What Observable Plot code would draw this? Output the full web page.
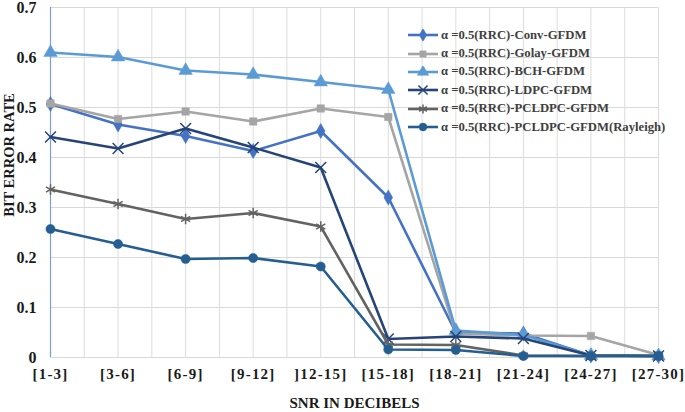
<!DOCTYPE html>
<html><head><meta charset="utf-8">
<script src="https://cdn.jsdelivr.net/npm/d3@7"></script>
<script src="https://cdn.jsdelivr.net/npm/@observablehq/plot@0.6"></script>
<style>
body{margin:0;background:#fff;}
#wrap{position:relative;width:685px;height:412px;font-family:"Liberation Serif","Times New Roman",serif;}
#legend{position:absolute;left:407px;top:26px;font-weight:bold;font-size:12.7px;color:#404040;}
.item{display:flex;align-items:center;height:18.4px;white-space:nowrap;}
.item svg{margin-right:2px;}
#ytitle{position:absolute;left:9px;top:155px;transform:translate(-50%,-50%) rotate(-90deg);font-weight:bold;font-size:14.5px;color:#1a1a1a;white-space:nowrap;}
</style></head><body><div id="wrap"><div id="legend"></div><div id="ytitle">BIT ERROR RATE</div></div>
<script>
const categories = ["[1-3]","[3-6]","[6-9]","[9-12]","]12-15]","[15-18]","[18-21]","[21-24]","[24-27]","[27-30]"];
const seriesNames = [
  "α =0.5(RRC)-Conv-GFDM",
  "α =0.5(RRC)-Golay-GFDM",
  "α =0.5(RRC)-BCH-GFDM",
  "α =0.5(RRC)-LDPC-GFDM",
  "α =0.5(RRC)-PCLDPC-GFDM",
  "α =0.5(RRC)-PCLDPC-GFDM(Rayleigh)"
];
const convValues     = [0.507, 0.466, 0.443, 0.413, 0.453, 0.320, 0.050, 0.048, 0.004, 0.003];
const golayValues    = [0.508, 0.477, 0.492, 0.472, 0.498, 0.481, 0.048, 0.044, 0.043, 0.005];
const bchValues      = [0.610, 0.601, 0.574, 0.566, 0.551, 0.536, 0.054, 0.045, 0.004, 0.003];
const ldpcValues     = [0.441, 0.418, 0.458, 0.420, 0.380, 0.037, 0.042, 0.038, 0.004, 0.003];
const pcldpcValues   = [0.336, 0.307, 0.277, 0.289, 0.262, 0.026, 0.025, 0.004, 0.003, 0.003];
const rayleighValues = [0.257, 0.227, 0.197, 0.199, 0.182, 0.016, 0.015, 0.003, 0.003, 0.003];
const yTicks = [0, 0.1, 0.2, 0.3, 0.4, 0.5, 0.6, 0.7];
const xTitle = "SNR IN DECIBELS";

const allValues = [convValues, golayValues, bchValues, ldpcValues, pcldpcValues, rayleighValues];
const colors = ["#4472C4", "#A5A5A5", "#5B9BD5", "#264478", "#636363", "#255E91"];
const symbols = ["diamond", "square", "triangle", "times", "asterisk", "circle"];
const filled = [true, true, true, false, false, true];
const radii = [4.6, 4.2, 5.0, 5.0, 5.0, 4.6];

const rows = [];
seriesNames.forEach((s, i) => allValues[i].forEach((v, j) => rows.push({series: s, idx: j, cat: categories[j], value: v})));

const serif = '"Liberation Serif","Times New Roman",serif';
const halfTicks = d3.range(0, 9.01, 0.5);
const marks = [
  Plot.ruleY(yTicks, {stroke: "#d9d9d9", strokeWidth: 1}),
  Plot.ruleX(halfTicks, {stroke: "#dcdcdc", strokeWidth: 1}),
  Plot.ruleX([0], {stroke: "#7f9ed0", strokeWidth: 1.2}),
  Plot.axisX({ticks: d3.range(10), tickFormat: i => categories[i], tickSize: 0, tickPadding: 11, label: null, fontSize: 15, fontWeight: "bold"}),
  Plot.axisY({ticks: yTicks, tickFormat: d => String(d), tickSize: 0, tickPadding: 14, label: null, fontSize: 16, fontWeight: "bold"}),
];
seriesNames.forEach((s, i) => {
  const data = rows.filter(d => d.series === s);
  marks.push(Plot.line(data, {x: "idx", y: "value", stroke: colors[i], strokeWidth: 2.6}));
  marks.push(Plot.dot(data, filled[i]
    ? {x: "idx", y: "value", symbol: symbols[i], r: radii[i], fill: colors[i], stroke: colors[i], strokeWidth: 0.5}
    : {x: "idx", y: "value", symbol: symbols[i], r: radii[i], stroke: colors[i], strokeWidth: 1.5}));
});
marks.push(Plot.text([xTitle], {frameAnchor: "bottom", textAnchor: "middle", dy: 50, fontSize: 15, fontWeight: "bold", fill: "#1a1a1a"}));

const chart = Plot.plot({
  width: 685, height: 412,
  marginTop: 7, marginBottom: 55, marginLeft: 50, marginRight: 27,
  x: {domain: [0, 9]},
  y: {domain: [0, 0.7]},
  style: {fontFamily: serif, color: "#1a1a1a", background: "#fff", overflow: "visible"},
  marks
});
d3.select(chart).selectAll('[aria-label="x-axis tick label"] text').attr("letter-spacing", "1.2px");
document.getElementById("wrap").prepend(chart);

// legend
const legend = d3.select("#legend");
const symMap = {diamond: d3.symbolDiamond, square: d3.symbolSquare, triangle: d3.symbolTriangle, times: d3.symbolTimes, asterisk: d3.symbolAsterisk, circle: d3.symbolCircle};
seriesNames.forEach((s, i) => {
  const item = legend.append("div").attr("class", "item");
  const svg = item.append("svg").attr("width", 32).attr("height", 12);
  svg.append("line").attr("x1", 1).attr("x2", 31).attr("y1", 6).attr("y2", 6).attr("stroke", colors[i]).attr("stroke-width", 2.6);
  const size = Math.PI * (radii[i] * 0.85) ** 2;
  svg.append("path").attr("transform", "translate(16,6)")
    .attr("d", d3.symbol(symMap[symbols[i]], size)())
    .attr("fill", filled[i] ? colors[i] : "none")
    .attr("stroke", colors[i]).attr("stroke-width", filled[i] ? 0.5 : 1.5);
  item.append("span").text(s);
});
</script>
</body></html>
